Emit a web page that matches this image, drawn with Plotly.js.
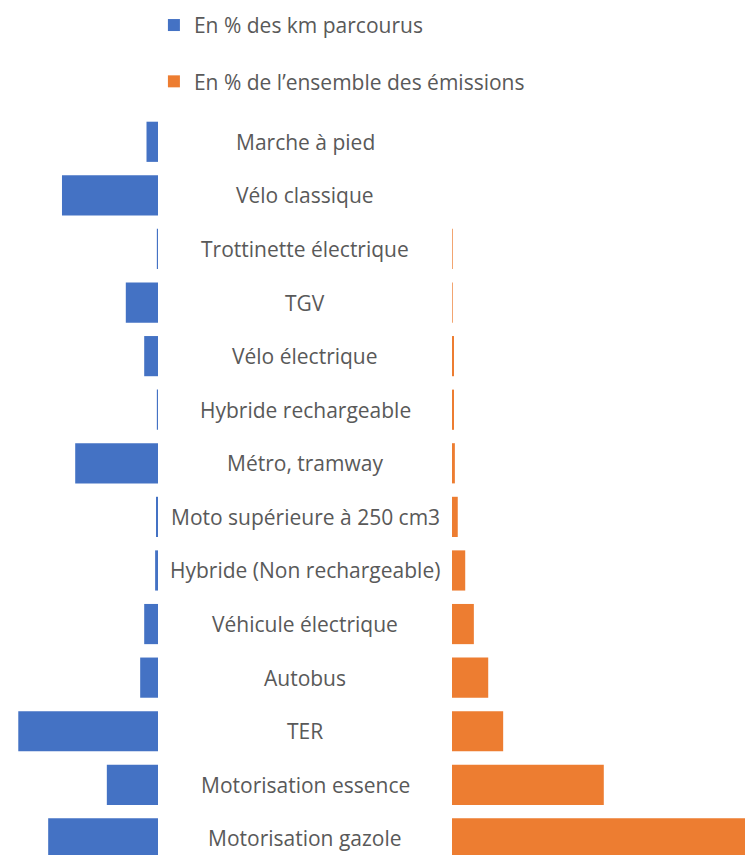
<!DOCTYPE html>
<html>
<head>
<meta charset="utf-8">
<script src="https://cdn.plot.ly/plotly-3.0.1.min.js"></script>
<style>html,body{margin:0;padding:0;background:#fff;overflow:hidden}#chart{width:745px;height:855px}</style>
</head>
<body>
<div id="chart"></div>
<script>
const categories = [
  "Marche à pied", "Vélo classique", "Trottinette électrique", "TGV",
  "Vélo électrique", "Hybride rechargeable", "Métro, tramway",
  "Moto supérieure à 250 cm3", "Hybride (Non rechargeable)",
  "Véhicule électrique", "Autobus", "TER", "Motorisation essence",
  "Motorisation gazole"
];
const kmShare = [2.0, 16.7, 0.2, 5.6, 2.4, 0.2, 14.4, 0.35, 0.5, 2.4, 3.1, 24.3, 8.9, 19.1];
const emissionShare = [0, 0, 0.12, 0.12, 0.35, 0.35, 0.5, 1.0, 2.3, 3.8, 6.3, 8.9, 26.4, 53];
const seriesNames = ["En % des km parcourus", "En % de l\u2019ensemble des émissions"];
const colors = ["#4472C4", "#ED7D31"];

const font = "Open Sans, Noto Sans, sans-serif";
const textColor = "#595959";

const traces = [
  {type: "bar", orientation: "h", name: seriesNames[0], y: categories, x: kmShare,
   xaxis: "x", yaxis: "y", marker: {color: colors[0]}, legendgroup: "a", hoverinfo: "x+y"},
  {type: "bar", orientation: "h", name: seriesNames[1], y: categories, x: emissionShare,
   xaxis: "x2", yaxis: "y", marker: {color: colors[1]}, legendgroup: "b", hoverinfo: "x+y"}
];

const annotations = categories.map(c => ({
  xref: "x3", yref: "y", x: 0.5, y: c, text: c, showarrow: false,
  xanchor: "center", yanchor: "middle", yshift: 0,
  font: {family: font, size: 21, color: textColor}
}));

const hidden = {showgrid: false, zeroline: false, showline: false, showticklabels: false, ticks: "", fixedrange: true};

const layout = {
  width: 745, height: 855,
  margin: {l: 0, r: 0, t: 115, b: 0, pad: 0},
  paper_bgcolor: "#fff", plot_bgcolor: "#fff",
  bargap: 0.25,
  showlegend: true,
  legend: {
    x: 0.2066, xanchor: "left", y: 1.1488, yanchor: "top",
    orientation: "v", traceorder: "grouped", tracegroupgap: 26,
    font: {family: font, size: 21, color: textColor},
    bgcolor: "rgba(0,0,0,0)"
  },
  annotations: annotations,
  xaxis: Object.assign({}, hidden, {domain: [0, 158/745], range: [27.48, 0], anchor: "y"}),
  xaxis2: Object.assign({}, hidden, {domain: [452/745, 1], range: [0, 50.96], anchor: "y"}),
  xaxis3: Object.assign({}, hidden, {domain: [158/745, 452/745], range: [0, 1], anchor: "y"}),
  yaxis: Object.assign({}, hidden, {type: "category", range: [13.31, -0.5]})
};

Plotly.newPlot("chart", traces, layout, {displayModeBar: false, staticPlot: true});
</script>
</body>
</html>
